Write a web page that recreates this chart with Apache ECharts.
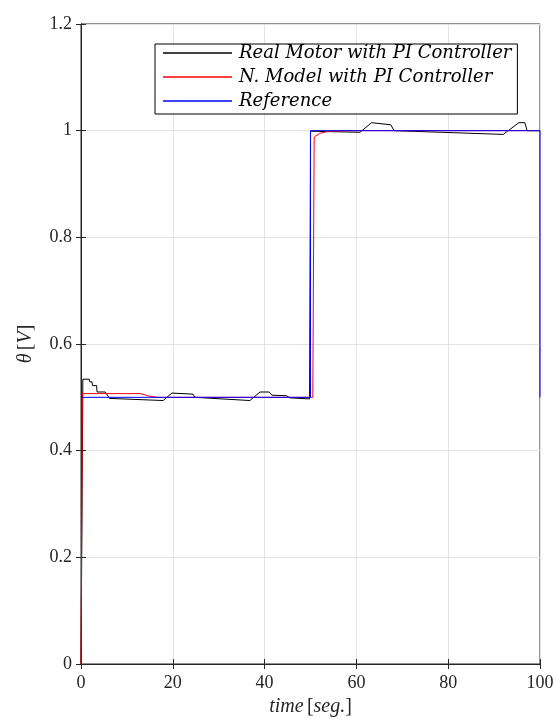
<!DOCTYPE html>
<html>
<head>
<meta charset="utf-8">
<script src="https://cdn.jsdelivr.net/npm/echarts@6/dist/echarts.min.js"></script>
<style>
  html, body { margin: 0; padding: 0; background: #fff; }
  #chart { width: 556px; height: 720px; }
</style>
</head>
<body>
<div id="chart"></div>
<script>
// Real motor response (black)
const realT = [0, 0.4, 1.8, 1.9, 2.4, 2.5, 3.4, 3.5, 5.3, 6.2, 17.9, 19.8, 24.4, 24.8, 36.8, 39, 41, 41.6, 44.8, 45.5, 49.8, 50, 60.8, 63.3, 67.5, 68.2, 92, 95.4, 96.7, 97.2, 100];
const realV = [0, 0.534, 0.534, 0.529, 0.529, 0.522, 0.522, 0.51, 0.51, 0.498, 0.494, 0.508, 0.506, 0.5, 0.494, 0.51, 0.51, 0.504, 0.503, 0.499, 0.497, 0.999, 0.997, 1.015, 1.011, 1.0, 0.993, 1.015, 1.015, 1.0, 1.0];
// Neural model response (red)
const modelT = [0, 0.3, 12.9, 15, 16.8, 50, 50.5, 50.8, 52, 54, 58, 100];
const modelV = [0, 0.507, 0.507, 0.502, 0.5, 0.5, 0.5, 0.988, 0.995, 0.999, 1.0, 1.0];
// Reference signal (blue)
const refT = [0, 50, 50, 100, 100];
const refV = [0.5, 0.5, 1, 1, 0.5];

const seriesNames = ['Real Motor with PI Controller', 'N. Model with PI Controller', 'Reference'];

const pairs = (t, v) => t.map((x, i) => [x, v[i]]);

const serif = 'Liberation Serif';
const axisColor = '#262626';
const gridColor = '#e3e3e3';

const chart = echarts.init(document.getElementById('chart'));

const option = {
  backgroundColor: '#fff',
  animation: false,
  grid: {
    left: 81, right: 16, top: 24, bottom: 56,
    outerBoundsMode: 'none', containLabel: false,
    show: true, borderColor: axisColor, borderWidth: 1, backgroundColor: 'transparent'
  },
  legend: {
    data: seriesNames,
    orient: 'vertical',
    left: 155, top: 44,
    padding: [0, 6, 4, 8],
    icon: 'rect',
    itemWidth: 69, itemHeight: 1.5, itemGap: 6,
    backgroundColor: '#fff',
    borderColor: '#000', borderWidth: 1,
    textStyle: { fontFamily: 'DejaVu Serif', fontStyle: 'italic', fontSize: 18, lineHeight: 18, color: '#000', padding: [0, 0, 0, 2] }
  },
  xAxis: [{
    type: 'value', min: 0, max: 100, interval: 20,
    name: '{i|time} {r|[}{i|seg.}{r|]}',
    nameLocation: 'middle', nameGap: 33,
    nameTextStyle: {
      rich: {
        i: { fontFamily: serif, fontStyle: 'italic', fontSize: 20, color: axisColor },
        r: { fontFamily: serif, fontSize: 20, color: axisColor }
      }
    },
    axisLine: { show: true, lineStyle: { color: axisColor } },
    axisTick: { show: true, inside: true, length: 5, lineStyle: { color: axisColor } },
    axisLabel: { fontFamily: serif, fontSize: 18, color: axisColor, margin: 10 },
    splitLine: { show: true, lineStyle: { color: gridColor } }
  }, {
    type: 'value', min: 0, max: 100, interval: 20, position: 'top',
    axisLine: { show: true, lineStyle: { color: axisColor } },
    axisTick: { show: true, inside: true, length: 5, lineStyle: { color: axisColor } },
    axisLabel: { show: false },
    splitLine: { show: false }
  }],
  yAxis: [{
    type: 'value', min: 0, max: 1.2, interval: 0.2,
    name: '{i|θ} {r|[}{i|V}{r|]}',
    nameLocation: 'middle', nameGap: 45, nameRotate: 90,
    nameTextStyle: {
      rich: {
        i: { fontFamily: serif, fontStyle: 'italic', fontSize: 20, color: axisColor },
        r: { fontFamily: serif, fontSize: 20, color: axisColor }
      }
    },
    axisLine: { show: true, lineStyle: { color: axisColor } },
    axisTick: { show: true, inside: true, length: 5, lineStyle: { color: axisColor } },
    axisLabel: {
      fontFamily: serif, fontSize: 18, color: axisColor, margin: 9,
      formatter: v => String(+v.toFixed(1))
    },
    splitLine: { show: true, lineStyle: { color: gridColor } }
  }, {
    type: 'value', min: 0, max: 1.2, interval: 0.2, position: 'right',
    axisLine: { show: true, lineStyle: { color: axisColor } },
    axisTick: { show: true, inside: true, length: 5, lineStyle: { color: axisColor } },
    axisLabel: { show: false },
    splitLine: { show: false }
  }],
  series: [
    {
      name: seriesNames[0], type: 'line', data: pairs(realT, realV),
      symbol: 'none', color: '#000', lineStyle: { width: 1, color: '#000' }
    },
    {
      name: seriesNames[1], type: 'line', data: pairs(modelT, modelV),
      symbol: 'none', color: '#ff0000', lineStyle: { width: 1, color: '#ff0000' }
    },
    {
      name: seriesNames[2], type: 'line', data: pairs(refT, refV),
      symbol: 'none', color: '#0000ff', lineStyle: { width: 1, color: '#0000ff' }
    }
  ]
};

chart.setOption(option);
</script>
</body>
</html>
